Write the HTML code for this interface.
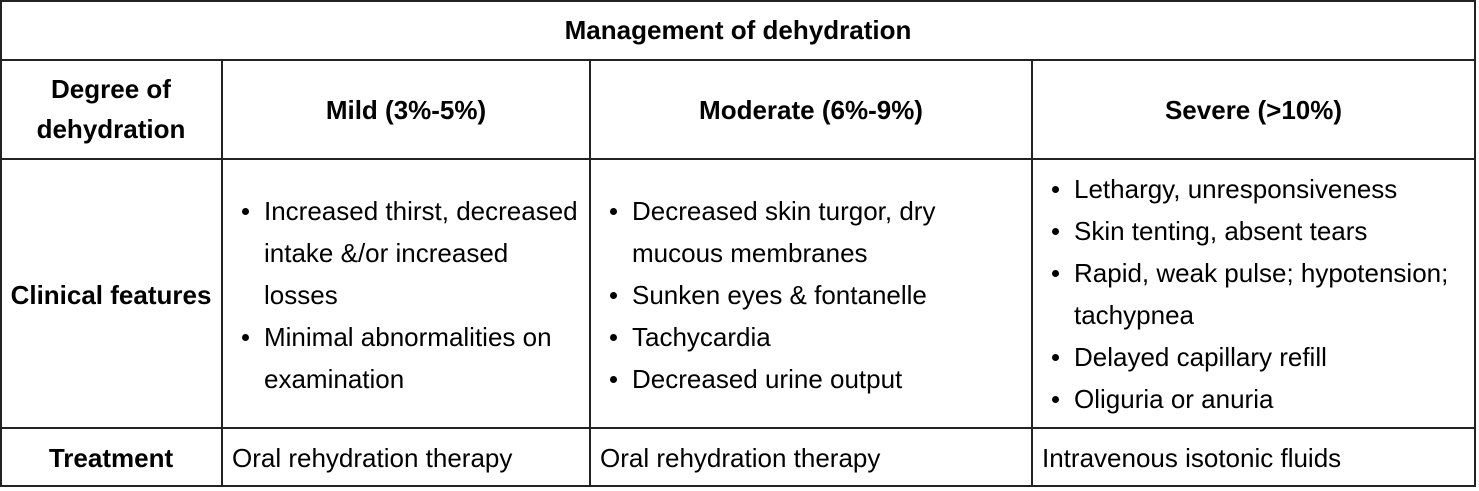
<!DOCTYPE html>
<html><head><style>
body{margin:0;width:1479px;height:491px;background:#fff;position:relative;overflow:hidden;font-family:"Liberation Sans",Arial,sans-serif;font-size:26px;color:#000}
.h{position:absolute;height:2px;background:#222}
.v{position:absolute;width:2px;background:#222}
.t{position:absolute;white-space:nowrap;line-height:42px}
.c{text-align:center}
b{font-weight:bold}
ul{margin:0;padding:0;list-style:none}
li{position:relative;padding-left:0}
li:before{content:"";position:absolute;left:-22px;top:18px;width:7px;height:7px;border-radius:50%;background:#000}
</style></head><body>
<div class="h" style="left:0;top:0;width:1476px"></div>
<div class="h" style="left:0;top:59px;width:1476px"></div>
<div class="h" style="left:0;top:158px;width:1476px"></div>
<div class="h" style="left:0;top:427px;width:1476px"></div>
<div class="h" style="left:0;top:485px;width:1476px"></div>
<div class="v" style="left:0;top:0;height:487px"></div>
<div class="v" style="left:221px;top:59px;height:428px"></div>
<div class="v" style="left:589px;top:59px;height:428px"></div>
<div class="v" style="left:1031px;top:59px;height:428px"></div>
<div class="v" style="left:1474px;top:0;height:487px"></div>

<div class="t c" style="left:0;width:1476px;top:9px"><b>Management of dehydration</b></div>
<div class="t c" style="left:0;width:222px;top:69px;line-height:40px"><b>Degree of<br>dehydration</b></div>
<div class="t c" style="left:222px;width:368px;top:89px"><b>Mild (3%-5%)</b></div>
<div class="t c" style="left:590px;width:442px;top:89px"><b>Moderate (6%-9%)</b></div>
<div class="t c" style="left:1032px;width:443px;top:89px"><b>Severe (&gt;10%)</b></div>

<div class="t c" style="left:0;width:222px;top:274px"><b>Clinical features</b></div>
<div class="t" style="left:264px;top:190px"><ul><li>Increased thirst, decreased<br>intake &amp;/or increased<br>losses</li><li>Minimal abnormalities on<br>examination</li></ul></div>
<div class="t" style="left:632px;top:190px"><ul><li>Decreased skin turgor, dry<br>mucous membranes</li><li>Sunken eyes &amp; fontanelle</li><li>Tachycardia</li><li>Decreased urine output</li></ul></div>
<div class="t" style="left:1074px;top:168px"><ul><li>Lethargy, unresponsiveness</li><li>Skin tenting, absent tears</li><li>Rapid, weak pulse; hypotension;<br>tachypnea</li><li>Delayed capillary refill</li><li>Oliguria or anuria</li></ul></div>

<div class="t c" style="left:0;width:222px;top:437px"><b>Treatment</b></div>
<div class="t" style="left:232px;top:437px">Oral rehydration therapy</div>
<div class="t" style="left:600px;top:437px">Oral rehydration therapy</div>
<div class="t" style="left:1042px;top:437px">Intravenous isotonic fluids</div>
</body></html>
